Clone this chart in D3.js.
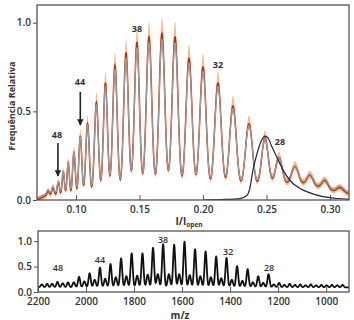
<!doctype html>
<html>
<head>
<meta charset="utf-8">
<title>PEG</title>
<script src="https://d3js.org/d3.v7.min.js"></script>
<style>
  body { margin: 0; background: #fff; }
  text { font-family: "Open Sans", sans-serif; fill: #333; }
  .tick text { font-size: 10px; font-weight: 600; }
  .frame { fill: none; stroke: #555; stroke-width: 1.3px; }
</style>
</head>
<body>
<svg width="354" height="320"></svg>
<script>
// ---- top panel: I/Iopen histogram ----
var topN      = [50, 49, 48, 47, 46, 45, 44, 43, 42, 41, 40, 39, 38, 37, 36, 35, 34, 33, 32, 31, 30, 29, 28, 27, 26, 25, 24];
var topPeakX  = [0.0780, 0.0819, 0.0861, 0.0900, 0.0939, 0.0984, 0.1034, 0.1091, 0.1161, 0.1232, 0.1307, 0.1394, 0.1480,
                 0.1575, 0.1677, 0.1780, 0.1890, 0.2000, 0.2118, 0.2236, 0.2362, 0.2488, 0.2598, 0.2724, 0.2843, 0.2961, 0.3079];
var topPeakY  = [0.05, 0.07, 0.10, 0.16, 0.21, 0.27, 0.36, 0.43, 0.55, 0.66, 0.76, 0.83, 0.89,
                 0.92, 0.94, 0.92, 0.80, 0.75, 0.66, 0.53, 0.43, 0.35, 0.24, 0.19, 0.14, 0.11, 0.07];
var topBgX    = [0.069, 0.078, 0.10, 0.20, 0.23, 0.255, 0.275, 0.29, 0.30, 0.315];
var topBgY    = [0.00, 0.03, 0.02, 0.02, 0.05, 0.08, 0.09, 0.07, 0.05, 0.035];
// single-size reference peak (dark curve)
var refX = [0.200, 0.2173, 0.2291, 0.2346, 0.2370, 0.2394, 0.2425, 0.2457, 0.2488, 0.2512, 0.2543, 0.2583, 0.2630,
            0.2685, 0.2764, 0.2843, 0.2937, 0.3039, 0.315];
var refY = [0.000, 0.003, 0.008, 0.025, 0.07, 0.17, 0.26, 0.33, 0.36, 0.35, 0.30, 0.24, 0.17,
            0.11, 0.065, 0.04, 0.02, 0.01, 0.005];
var topTicks = [0.10, 0.15, 0.20, 0.25, 0.30];
var yTicks = [0, 0.5, 1.0];
var topLabels = [{t: "48", x: 0.0850, y: 0.370}, {t: "44", x: 0.1031, y: 0.666}, {t: "38", x: 0.148, y: 0.965},
                 {t: "32", x: 0.2118, y: 0.762}, {t: "28", x: 0.2606, y: 0.327}];
var topArrows = [{x: 0.0858, y0: 0.321, y1: 0.135}, {x: 0.1034, y0: 0.609, y1: 0.423}];

// ---- bottom panel: mass spectrum ----
var msPeakX = [2206, 2162, 2119, 2075, 2029, 1985, 1942, 1898, 1854, 1810, 1765, 1721, 1679, 1633, 1590, 1546, 1502,
               1458, 1415, 1371, 1327, 1283, 1240, 1196, 1152, 1108, 1064, 1020, 976, 932];
var msPeakY = [0.15, 0.16, 0.20, 0.19, 0.30, 0.37, 0.48, 0.55, 0.66, 0.76, 0.76, 0.87, 0.94, 0.93, 0.99, 0.84, 0.80,
               0.70, 0.67, 0.51, 0.45, 0.31, 0.35, 0.18, 0.16, 0.15, 0.15, 0.14, 0.14, 0.14];
var msSideY = [0.05, 0.06, 0.07, 0.08, 0.10, 0.12, 0.15, 0.17, 0.20, 0.22, 0.23, 0.25, 0.26, 0.26, 0.26, 0.24, 0.22,
               0.20, 0.18, 0.15, 0.13, 0.10, 0.09, 0.06, 0.05, 0.05, 0.04, 0.04, 0.04, 0.04];
var msBase = 0.09;
var msTicks = [2200, 2000, 1800, 1600, 1400, 1200, 1000];
var msLabels = [{t: "48", x: 2117, y: 0.47}, {t: "44", x: 1942, y: 0.63}, {t: "38", x: 1679, y: 1.02},
                {t: "32", x: 1408, y: 0.79}, {t: "28", x: 1238, y: 0.47}];

var svg = d3.select("svg");
var fmt = d3.format(".1f");

// top scales
var x1 = d3.scaleLinear().domain([0.0693, 0.315]).range([37, 349]);
var y1 = d3.scaleLinear().domain([0, 1.1]).range([200, 5]);
var bg = d3.scaleLinear().domain(topBgX).range(topBgY).clamp(true);

var peaks = topPeakX.map(function(c, i) {
  var l = i > 0 ? c - topPeakX[i - 1] : topPeakX[i + 1] - c;
  var r = i < topPeakX.length - 1 ? topPeakX[i + 1] - c : l;
  return {c: c, a: Math.max(topPeakY[i] - bg(c), 0), s: 0.22 * (l + r) / 2};
});
function histo(v) {
  var s = bg(v);
  peaks.forEach(function(p) { s += p.a * Math.exp(-(v - p.c) * (v - p.c) / (2 * p.s * p.s)); });
  return s;
}
var topPts = d3.range(0.0693, 0.3151, 0.0002).map(function(v) { return [v, histo(v)]; });

svg.append("clipPath").attr("id", "c1").append("rect").attr("x", 37).attr("y", 5).attr("width", 312).attr("height", 195);
var g1 = svg.append("g").attr("clip-path", "url(#c1)");

g1.append("path").datum(topPts)
  .attr("fill", "#f5ad7a").attr("opacity", 0.8)
  .attr("d", d3.area().x(function(d) { return x1(d[0]); })
    .y0(function(d) { return y1(d[1] - 0.014 - 0.04 * d[1]); })
    .y1(function(d) { return y1(d[1] + 0.014 + 0.08 * d[1]); }));

var line1 = d3.line().x(function(d) { return x1(d[0]); }).y(function(d) { return y1(d[1]); });
g1.append("path").datum(topPts).attr("fill", "none").attr("stroke", "#b8300f").attr("stroke-width", 1.5).attr("d", line1);
// smoother fit drawn over the data
g1.append("path").datum(topPts.map(function(d) { return [d[0], 0.95 * d[1] + 0.012]; }))
  .attr("fill", "none").attr("stroke", "#9c9c9c").attr("stroke-width", 1.2).attr("d", line1);

g1.append("path").datum(d3.zip(refX, refY)).attr("fill", "none").attr("stroke", "#1c2540").attr("stroke-width", 1.2)
  .attr("d", d3.line().curve(d3.curveMonotoneX).x(function(d) { return x1(d[0]); }).y(function(d) { return y1(d[1]); }));

svg.append("g").attr("transform", "translate(37,0)")
  .call(d3.axisLeft(y1).tickValues(yTicks).tickFormat(fmt).tickSize(4).tickPadding(2))
  .call(function(g) { g.select(".domain").remove(); g.selectAll("line").attr("stroke", "#555"); });
svg.append("g").attr("transform", "translate(0,200)")
  .call(d3.axisBottom(x1).tickValues(topTicks).tickFormat(d3.format(".2f")).tickSize(-5).tickPadding(6))
  .call(function(g) { g.select(".domain").remove(); g.selectAll("line").attr("stroke", "#555"); });
svg.append("rect").attr("class", "frame").attr("x", 37).attr("y", 5).attr("width", 312).attr("height", 195);

svg.selectAll(".tlab").data(topLabels).enter().append("text")
  .attr("x", function(d) { return x1(d.x); }).attr("y", function(d) { return y1(d.y); })
  .attr("text-anchor", "middle").attr("dy", "0.35em")
  .style("font-size", "9px").style("font-weight", 700).text(function(d) { return d.t; });

svg.append("defs").append("marker").attr("id", "ah").attr("viewBox", "0 0 10 10")
  .attr("refX", 9).attr("refY", 5).attr("markerWidth", 4).attr("markerHeight", 4).attr("orient", "auto")
  .append("path").attr("d", "M0,0L10,5L0,10z").attr("fill", "#222");
svg.selectAll(".arr").data(topArrows).enter().append("line")
  .attr("x1", function(d) { return x1(d.x); }).attr("x2", function(d) { return x1(d.x); })
  .attr("y1", function(d) { return y1(d.y0); }).attr("y2", function(d) { return y1(d.y1); })
  .attr("stroke", "#222").attr("stroke-width", 1.6).attr("marker-end", "url(#ah)");

var xt = svg.append("text").attr("x", 189).attr("y", 225).attr("text-anchor", "middle")
  .style("font-size", "10px").style("font-weight", 700);
xt.append("tspan").text("I/I");
xt.append("tspan").attr("dy", 2).style("font-size", "6.5px").text("open");

svg.append("text").attr("transform", "translate(15,106) rotate(-90)").attr("text-anchor", "middle")
  .style("font-size", "9px").style("font-weight", 700).text("Frequência Relativa");

// bottom panel
var x2 = d3.scaleLinear().domain([2200, 905]).range([38, 349]);
var y2 = d3.scaleLinear().domain([0, 1.2]).range([292, 231]);
function spec(m) {
  var s = msBase;
  msPeakX.forEach(function(c, i) {
    var a = msPeakY[i] - msBase;
    s += a * Math.exp(-(m - c) * (m - c) / (2 * 4.5 * 4.5));
    s += msSideY[i] * Math.exp(-(m - c - 22) * (m - c - 22) / (2 * 5 * 5));
  });
  return s;
}
var msPts = d3.range(2200, 904, -1).map(function(m) { return [m, spec(m)]; });

svg.append("clipPath").attr("id", "c2").append("rect").attr("x", 38).attr("y", 231).attr("width", 311).attr("height", 61);
svg.append("g").attr("clip-path", "url(#c2)").append("path").datum(msPts)
  .attr("fill", "none").attr("stroke", "#111").attr("stroke-width", 1.8).attr("stroke-linejoin", "round")
  .attr("d", d3.line().x(function(d) { return x2(d[0]); }).y(function(d) { return y2(d[1]); }));

svg.append("g").attr("transform", "translate(38,0)")
  .call(d3.axisLeft(y2).tickValues(yTicks).tickFormat(fmt).tickSize(4).tickPadding(2))
  .call(function(g) { g.select(".domain").remove(); g.selectAll("line").attr("stroke", "#555"); });
svg.append("g").attr("transform", "translate(0,292)")
  .call(d3.axisBottom(x2).tickValues(msTicks).tickFormat(d3.format("d")).tickSize(-5).tickPadding(6))
  .call(function(g) { g.select(".domain").remove(); g.selectAll("line").attr("stroke", "#555"); });
svg.append("rect").attr("class", "frame").attr("x", 38).attr("y", 231).attr("width", 311).attr("height", 61);

svg.selectAll(".mlab").data(msLabels).enter().append("text")
  .attr("x", function(d) { return x2(d.x); }).attr("y", function(d) { return y2(d.y); })
  .attr("text-anchor", "middle").attr("dy", "0.35em")
  .style("font-size", "9px").style("font-weight", 600).text(function(d) { return d.t; });

svg.append("text").attr("x", 180).attr("y", 318.5).attr("text-anchor", "middle")
  .style("font-size", "10px").style("font-weight", 700).text("m/z");
</script>
</body>
</html>
